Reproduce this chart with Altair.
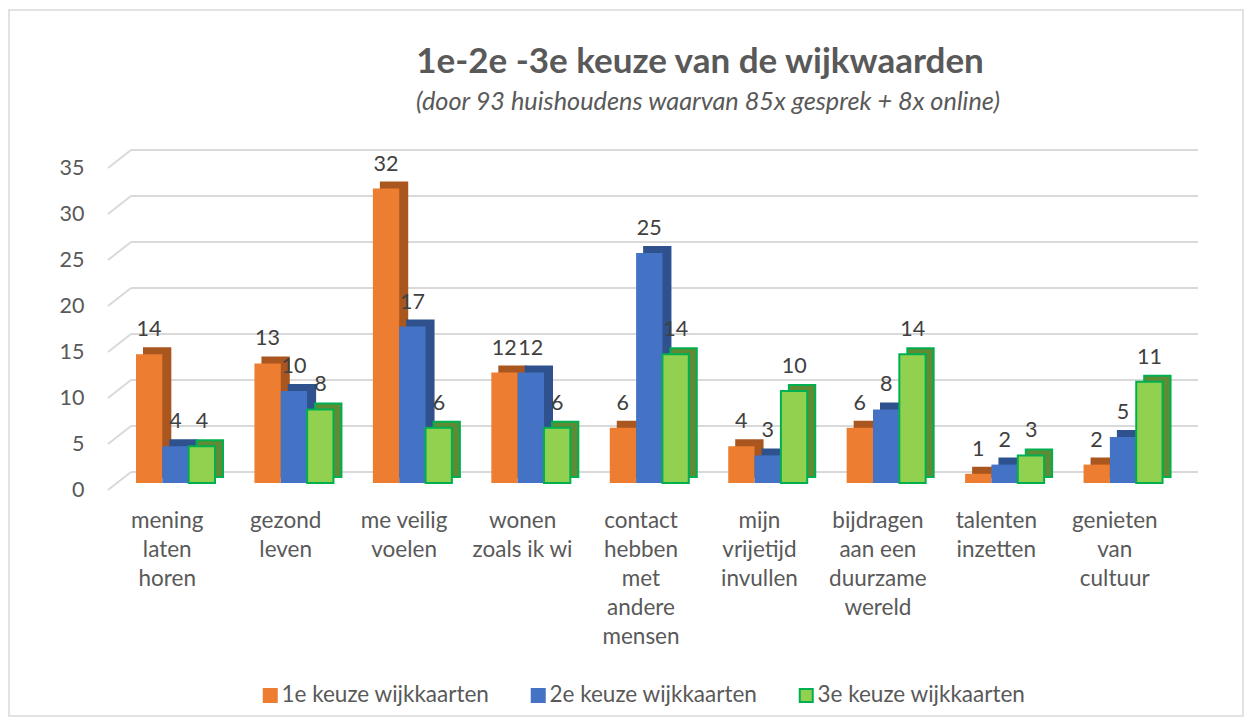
import altair as alt
import pandas as pd

categories = [
    "mening laten horen",
    "gezond leven",
    "me veilig voelen",
    "wonen zoals ik wi",
    "contact hebben met andere mensen",
    "mijn vrijetijd invullen",
    "bijdragen aan een duurzame wereld",
    "talenten inzetten",
    "genieten van cultuur",
]
label_lines = {
    "mening laten horen": ["mening", "laten", "horen"],
    "gezond leven": ["gezond", "leven"],
    "me veilig voelen": ["me veilig", "voelen"],
    "wonen zoals ik wi": ["wonen", "zoals ik wi"],
    "contact hebben met andere mensen": ["contact", "hebben", "met", "andere", "mensen"],
    "mijn vrijetijd invullen": ["mijn", "vrijetijd", "invullen"],
    "bijdragen aan een duurzame wereld": ["bijdragen", "aan een", "duurzame", "wereld"],
    "talenten inzetten": ["talenten", "inzetten"],
    "genieten van cultuur": ["genieten", "van", "cultuur"],
}
series = ["1e keuze wijkkaarten", "2e keuze wijkkaarten", "3e keuze wijkkaarten"]
keuze1 = [14, 13, 32, 12, 6, 4, 6, 1, 2]
keuze2 = [4, 10, 17, 12, 25, 3, 8, 2, 5]
keuze3 = [4, 8, 6, 6, 14, 10, 14, 3, 11]
y_ticks = [0, 5, 10, 15, 20, 25, 30, 35]

title_text = "1e-2e -3e keuze van de wijkwaarden"
subtitle_text = "(door 93 huishoudens waarvan 85x gesprek + 8x online)"

front_colors = ["#ED7D31", "#4472C4", "#92D050"]
side_colors = ["#A9561F", "#2F528F", "#5E8B33"]
stroke_colors = ["#ED7D31", "#4472C4", "#00B050"]
side_strokes = ["#A9561F", "#2F528F", "#00B050"]

rows = []
for s, vals in zip(series, [keuze1, keuze2, keuze3]):
    for c, v in zip(categories, vals):
        rows.append({"cat": c, "series": s, "value": v})
df = pd.DataFrame(rows)
grid_df = pd.DataFrame({"tick": y_ticks})
one = pd.DataFrame({"a": [0]})

FONT = "Lato"
TXT = "#595959"

label_expr = "{" + ", ".join(
    "'" + k + "': [" + ", ".join("'" + l + "'" for l in v) + "]" for k, v in label_lines.items()
) + "}[datum.label]"

x_enc = alt.X(
    "cat:N",
    sort=categories,
    scale=alt.Scale(paddingInner=0, paddingOuter=0),
    axis=alt.Axis(
        title=None, domain=False, ticks=False, labelAngle=0,
        labelFont=FONT, labelFontSize=22.5, labelColor=TXT, labelPadding=19,
        labelLineHeight=29, labelExpr=label_expr, labelLimit=200,
    ),
)
y_axis = alt.Axis(
    title=None, values=y_ticks, domain=False, ticks=False, grid=False,
    labelFont=FONT, labelFontSize=21.5, labelColor=TXT, labelPadding=24,
)
y_scale = alt.Scale(domain=[0, 35], nice=False)
y_enc = alt.Y("value:Q", scale=y_scale, axis=y_axis)

# outer frame of the chart
frame = alt.Chart(one).mark_rect(
    fill=None, stroke="#D9D9D9", strokeWidth=1.5
).encode(
    x=alt.value(-99), x2=alt.value(1135), y=alt.value(-158), y2=alt.value(548)
)

# title and subtitle
title = alt.Chart(one).mark_text(
    font=FONT, fontSize=35, fontWeight="bold", color=TXT, align="center", baseline="alphabetic"
).encode(x=alt.value(592), y=alt.value(-95), text=alt.value(title_text))
subtitle = alt.Chart(one).mark_text(
    font=FONT, fontSize=25.3, fontStyle="italic", color=TXT, align="center", baseline="alphabetic"
).encode(x=alt.value(600), y=alt.value(-58), text=alt.value(subtitle_text))

# 3D-like gridlines: slanted front piece + back wall line
grid_slant = alt.Chart(grid_df).mark_rule(color="#D9D9D9", strokeWidth=2, y2Offset=-18).encode(
    x=alt.value(0), x2=alt.value(23),
    y=alt.Y("tick:Q", scale=y_scale, axis=y_axis),
    y2="tick:Q",
)
grid_back = alt.Chart(grid_df).mark_rule(color="#D9D9D9", strokeWidth=2, yOffset=-18).encode(
    x=alt.value(23), x2=alt.value(1090),
    y=alt.Y("tick:Q", scale=y_scale, axis=y_axis),
)

side = alt.Chart(df).mark_bar(yOffset=-13, y2Offset=-13, strokeWidth=2).encode(
    x=x_enc,
    y=y_enc,
    xOffset=alt.XOffset("series:N", sort=series,
                        scale=alt.Scale(domain=series, range=[36, 115], paddingInner=0, paddingOuter=0)),
    color=alt.Color("series:N", scale=alt.Scale(domain=series, range=side_colors), legend=None),
    stroke=alt.Stroke("series:N", scale=alt.Scale(domain=series, range=side_strokes), legend=None),
)

legend = alt.Legend(
    title=None, orient="none", legendX=151, legendY=516, direction="horizontal",
    symbolType="square", symbolSize=169, symbolStrokeWidth=2,
    labelFont=FONT, labelFontSize=22.5, labelColor=TXT, labelOffset=0, labelLimit=400,
    columnPadding=37,
)
front = alt.Chart(df).mark_bar(yOffset=-7, y2Offset=-7).encode(
    x=x_enc,
    y=y_enc,
    xOffset=alt.XOffset("series:N", sort=series,
                        scale=alt.Scale(domain=series, range=[28, 107], paddingInner=0, paddingOuter=0)),
    color=alt.Color("series:N", scale=alt.Scale(domain=series, range=front_colors), legend=legend),
    stroke=alt.Stroke("series:N", scale=alt.Scale(domain=series, range=stroke_colors), legend=legend),
    strokeWidth=alt.condition(alt.datum.series == series[2], alt.value(2), alt.value(0)),
)

labels = alt.Chart(df).mark_text(
    yOffset=-25, baseline="alphabetic", align="center",
    font=FONT, fontSize=21.5, color="#404040",
).encode(
    x=x_enc,
    y=y_enc,
    xOffset=alt.XOffset("series:N", sort=series,
                        scale=alt.Scale(type="point", domain=series, range=[41, 94], padding=0)),
    text="value:Q",
)

chart = alt.layer(frame, title, subtitle, grid_slant, grid_back, side, front, labels).resolve_scale(
    color="independent", stroke="independent", xOffset="independent"
).properties(
    width=1066,
    height=322,
    padding={"left": 100, "top": 160, "right": 70, "bottom": 228},
    autosize=alt.AutoSizeParams(type="none"),
    background="white",
).configure_view(stroke=None)

chart.save("out.html", embed_options={"renderer": "svg", "actions": False})
